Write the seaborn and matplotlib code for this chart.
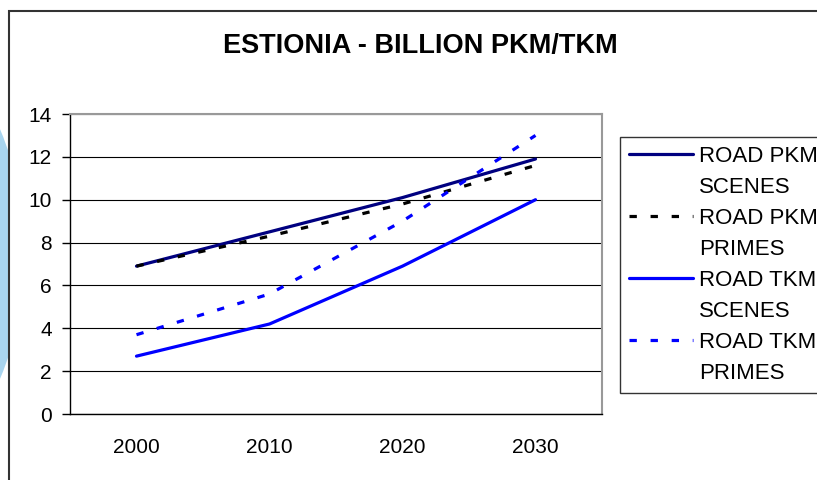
import numpy as np
import pandas as pd
import seaborn as sns
import matplotlib.pyplot as plt
from matplotlib.lines import Line2D
from matplotlib.patches import Circle, Rectangle
from matplotlib.transforms import IdentityTransform


# data

years = ['2000', '2010', '2020', '2030']
road_pkm_scenes = [6.9, 8.5, 10.1, 11.9]
road_pkm_primes = [6.9, 8.3, 9.8, 11.6]
road_tkm_scenes = [2.7, 4.2, 6.9, 10.0]
road_tkm_primes = [3.7, 5.6, 9.0, 13.0]

series_names = ['ROAD PKM SCENES', 'ROAD PKM PRIMES', 'ROAD TKM SCENES', 'ROAD TKM PRIMES']
series_values = [road_pkm_scenes, road_pkm_primes, road_tkm_scenes, road_tkm_primes]
y_ticks = [0, 2, 4, 6, 8, 10, 12, 14]

colors = {'ROAD PKM SCENES': '#000080', 'ROAD PKM PRIMES': '#000000',
          'ROAD TKM SCENES': '#0000ff', 'ROAD TKM PRIMES': '#0000ff'}
dash = (2.3, 4.3)
dashes = {'ROAD PKM SCENES': '', 'ROAD PKM PRIMES': dash,
          'ROAD TKM SCENES': '', 'ROAD TKM PRIMES': dash}

rows = []
for name, vals in zip(series_names, series_values):
    for i, v in enumerate(vals):
        rows.append({'pos': i, 'value': v, 'series': name})
df = pd.DataFrame(rows)


# plot

sns.set_style('white')
plt.rcParams['font.family'] = ['Liberation Sans', 'DejaVu Sans']
plt.rcParams['text.color'] = 'black'
plt.rcParams['xtick.color'] = 'black'
plt.rcParams['ytick.color'] = 'black'

fig = plt.figure(figsize=(8.17, 4.8), dpi=100)
ax = fig.add_axes([70 / 817, 66 / 480, 532 / 817, 300 / 480])

# decoration: blue shape at the left and slide frame
fig.patches.append(Circle((-300, 226), 325, transform=IdentityTransform(),
                          facecolor='#a9d5ef', edgecolor='none', zorder=-3))
fig.patches.append(Rectangle((9, -10), 900, 479, transform=IdentityTransform(),
                             facecolor='white', edgecolor='#333333', lw=1.5, zorder=-2))
fig.patch.set_facecolor('white')

sns.lineplot(data=df, x='pos', y='value', hue='series', style='series',
             palette=colors, dashes=dashes, linewidth=2.3, legend=False, ax=ax)

ax.set_xlim(-0.5, 3.5)
ax.set_ylim(0, 14)
ax.set_yticks(y_ticks)
ax.set_yticklabels([str(t) for t in y_ticks], fontsize=15)
ax.set_xticks(range(len(years)))
ax.set_xticklabels(years, fontsize=15)
ax.set_xticks(np.arange(-0.5, 4, 1), minor=True)
ax.tick_params(axis='x', which='major', length=0, pad=17)
ax.tick_params(axis='x', which='minor', length=6, width=1, color='black', direction='out')
ax.tick_params(axis='y', length=6, width=1, color='black', direction='out', pad=7, left=True)
ax.set_xlabel('')
ax.set_ylabel('')

ax.grid(axis='y', color='black', linewidth=0.8)
ax.grid(axis='x', visible=False)
ax.set_axisbelow(True)
for s in ['left', 'bottom']:
    ax.spines[s].set_color('black')
    ax.spines[s].set_linewidth(1)
for s in ['top', 'right']:
    ax.spines[s].set_color('#999999')
    ax.spines[s].set_linewidth(1.5)

fig.text(420 / 817, 1 - 46 / 480, 'ESTIONIA - BILLION PKM/TKM', ha='center', va='center',
         fontsize=19.5, fontweight='bold', color='black')

# legend: two-line labels, handle on first line
handles = []
labels = []
for name in series_names:
    first, second = name.rsplit(' ', 1)
    ls = '-' if dashes[name] == '' else (0, dash)
    handles.append(Line2D([], [], color=colors[name], linewidth=2.3, linestyle=ls))
    labels.append(first)
    handles.append(Line2D([], [], color='none'))
    labels.append(second)

leg = ax.legend(handles, labels, loc='upper left', bbox_to_anchor=(620 / 817, 1 - 137 / 480),
                bbox_transform=fig.transFigure, borderaxespad=0, fontsize=16,
                handlelength=2.9, handletextpad=0.25, labelspacing=0.45, borderpad=0.4,
                frameon=True, fancybox=False, edgecolor='black')
leg.get_frame().set_linewidth(1)

fig.savefig('out.png', dpi=100)
